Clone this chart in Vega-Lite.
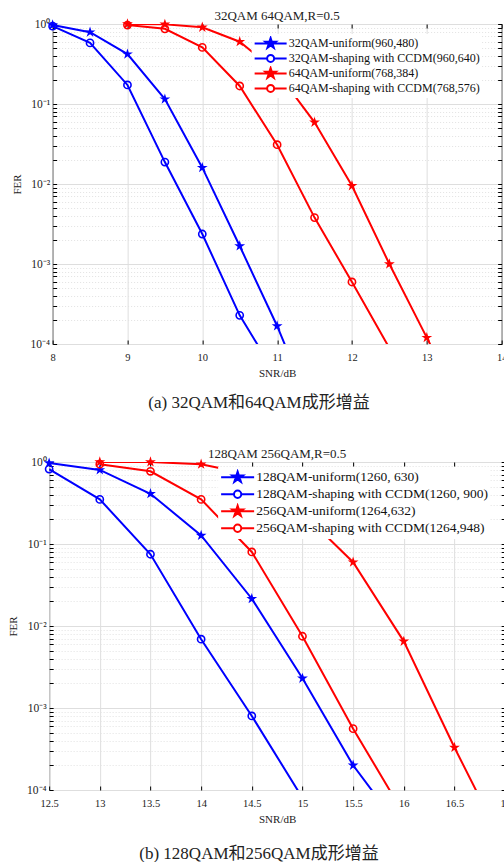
{
 "$schema": "https://vega.github.io/schema/vega-lite/v6.json",
 "padding": {"left": 7, "top": 9, "right": 0, "bottom": 0},
 "background": "white",
 "config": {
  "font": "Liberation Serif, Noto Sans CJK SC",
  "view": {"stroke": "#000000", "strokeWidth": 1},
  "axis": {"labelFont": "Liberation Serif", "labelColor": "#222222", "titleFont": "Liberation Serif", "titleColor": "#222222", "tickColor": "#000000"}
 },
 "spacing": 36,
 "center": true,
 "resolve": {"scale": {"color": "independent"}, "legend": {"color": "independent"}},
 "vconcat": [
  {
   "title": {"text": "(a)  32QAM和64QAM成形增益", "orient": "bottom", "anchor": "middle", "fontSize": 17, "fontWeight": "normal", "offset": 16, "color": "#222222"},
   "vconcat": [
    {
     "width": 449, "height": 320,
     "title": {"text": "32QAM 64QAM,R=0.5", "fontSize": 13, "fontWeight": "normal", "frame": "group", "anchor": "middle", "offset": -5, "color": "#222222"},
     "data": {"values": [
      {"series": "32QAM-uniform(960,480)", "snr": 8, "fer": 0.97},
      {"series": "32QAM-uniform(960,480)", "snr": 8.5, "fer": 0.79},
      {"series": "32QAM-uniform(960,480)", "snr": 9, "fer": 0.42},
      {"series": "32QAM-uniform(960,480)", "snr": 9.5, "fer": 0.115},
      {"series": "32QAM-uniform(960,480)", "snr": 10, "fer": 0.016},
      {"series": "32QAM-uniform(960,480)", "snr": 10.5, "fer": 0.00168},
      {"series": "32QAM-uniform(960,480)", "snr": 11, "fer": 0.000168},
      {"series": "32QAM-uniform(960,480)", "snr": 11.5, "fer": 0.0000125},
      {"series": "32QAM-shaping with CCDM(960,640)", "snr": 8, "fer": 0.94},
      {"series": "32QAM-shaping with CCDM(960,640)", "snr": 8.5, "fer": 0.58},
      {"series": "32QAM-shaping with CCDM(960,640)", "snr": 9, "fer": 0.173},
      {"series": "32QAM-shaping with CCDM(960,640)", "snr": 9.5, "fer": 0.0188},
      {"series": "32QAM-shaping with CCDM(960,640)", "snr": 10, "fer": 0.00237},
      {"series": "32QAM-shaping with CCDM(960,640)", "snr": 10.5, "fer": 0.000228},
      {"series": "32QAM-shaping with CCDM(960,640)", "snr": 11, "fer": 0.000039},
      {"series": "64QAM-uniform(768,384)", "snr": 9, "fer": 1.0},
      {"series": "64QAM-uniform(768,384)", "snr": 9.5, "fer": 0.99},
      {"series": "64QAM-uniform(768,384)", "snr": 10, "fer": 0.91},
      {"series": "64QAM-uniform(768,384)", "snr": 10.5, "fer": 0.6},
      {"series": "64QAM-uniform(768,384)", "snr": 11, "fer": 0.25},
      {"series": "64QAM-uniform(768,384)", "snr": 11.5, "fer": 0.059},
      {"series": "64QAM-uniform(768,384)", "snr": 12, "fer": 0.0095},
      {"series": "64QAM-uniform(768,384)", "snr": 12.5, "fer": 0.001},
      {"series": "64QAM-uniform(768,384)", "snr": 13, "fer": 0.00012},
      {"series": "64QAM-uniform(768,384)", "snr": 13.5, "fer": 0.0000145},
      {"series": "64QAM-shaping with CCDM(768,576)", "snr": 9, "fer": 0.97},
      {"series": "64QAM-shaping with CCDM(768,576)", "snr": 9.5, "fer": 0.87},
      {"series": "64QAM-shaping with CCDM(768,576)", "snr": 10, "fer": 0.51},
      {"series": "64QAM-shaping with CCDM(768,576)", "snr": 10.5, "fer": 0.168},
      {"series": "64QAM-shaping with CCDM(768,576)", "snr": 11, "fer": 0.031},
      {"series": "64QAM-shaping with CCDM(768,576)", "snr": 11.5, "fer": 0.0038},
      {"series": "64QAM-shaping with CCDM(768,576)", "snr": 12, "fer": 0.000596},
      {"series": "64QAM-shaping with CCDM(768,576)", "snr": 12.5, "fer": 0.000089}
     ]},
     "encoding": {
      "color": {"field": "series", "type": "nominal",
       "scale": {"domain": ["32QAM-uniform(960,480)", "32QAM-shaping with CCDM(960,640)", "64QAM-uniform(768,384)", "64QAM-shaping with CCDM(768,576)"], "range": ["#0000ff", "#0000ff", "#ff0000", "#ff0000"]},
       "legend": {"orient": "none", "legendX": 199, "legendY": 10, "title": null, "fillColor": "white", "padding": 2, "labelFontSize": 12, "labelFont": "Liberation Serif", "labelColor": "#111111", "labelLimit": 500, "symbolSize": 1024, "symbolStrokeWidth": 2, "clipHeight": 14.8, "rowPadding": 0, "labelOffset": 1, "symbolOffset": 0,
        "encode": {"symbols": {"update": {
         "shape": {"signal": "indexof(datum.value,'uniform')>=0 ? 'M0,-0.34L0.0764,-0.1052L0.3234,-0.1051L0.1236,0.0402L0.1999,0.2751L0,0.13L-0.1999,0.2751L-0.1236,0.0402L-0.3234,-0.1051L-0.0764,-0.1052ZM-1,0L1,0' : 'M-0.22,0A0.22,0.22 0 1,0 0.22,0A0.22,0.22 0 1,0 -0.22,0ZM-0.22,0A0.22,0.22 0 1,1 0.22,0A0.22,0.22 0 1,1 -0.22,0ZM-1,0L-0.22,0M0.22,0L1,0'"},
         "fill": {"signal": "indexof(datum.value,'uniform')>=0 ? (indexof(datum.value,'32Q')==0 ? '#0000ff' : '#ff0000') : 'transparent'"},
         "stroke": {"signal": "indexof(datum.value,'32Q')==0 ? '#0000ff' : '#ff0000'"},
         "strokeWidth": {"value": 2},
         "opacity": {"value": 1}
        }}}
       }
      }
     },
     "layer": [
      {
       "mark": {"type": "line", "clip": true, "strokeWidth": 2},
       "encoding": {
        "x": {"field": "snr", "type": "quantitative", "scale": {"domain": [8, 14], "nice": false, "zero": false},
         "axis": {"values": [8, 9, 10, 11, 12, 13, 14], "orient": "bottom", "title": "SNR/dB", "titleFontSize": 11, "titleFontWeight": "normal", "titlePadding": 5, "labelFontSize": 10.5, "tickSize": -4, "labelPadding": 12, "domain": false, "grid": true, "gridColor": "#dedede", "gridWidth": 1, "labelFlush": false}},
        "y": {"field": "fer", "type": "quantitative", "scale": {"type": "log", "domain": [0.0001, 1], "nice": false},
         "axis": {"values": [0.0001,0.0002,0.0003,0.0004,0.0005,0.0006,0.0007,0.0008,0.0009,0.001,0.002,0.003,0.004,0.005,0.006,0.007,0.008,0.009,0.01,0.02,0.03,0.04,0.05,0.06,0.07,0.08,0.09,0.1,0.2,0.3,0.4,0.5,0.6,0.7,0.8,0.9,1],
          "orient": "left", "title": "FER", "titleFontSize": 11, "titleFontWeight": "normal", "titlePadding": 8,
          "labelExpr": "abs(log(datum.value)/LN10 - round(log(datum.value)/LN10)) < 0.01 ? (round(log(datum.value)/LN10) == 0 ? '10⁰' : round(log(datum.value)/LN10) == -1 ? '10⁻¹' : round(log(datum.value)/LN10) == -2 ? '10⁻²' : round(log(datum.value)/LN10) == -3 ? '10⁻³' : '10⁻⁴') : ''",
          "labelOverlap": false, "labelFontSize": 11.5, "tickSize": -4, "labelPadding": 7, "domain": false, "grid": true, "labelFlush": false,
          "gridColor": {"condition": {"test": "abs(log(datum.value)/LN10 - round(log(datum.value)/LN10)) < 0.01", "value": "#dedede"}, "value": "#e2e2e2"},
          "gridDash": {"condition": {"test": "abs(log(datum.value)/LN10 - round(log(datum.value)/LN10)) < 0.01", "value": []}, "value": [1, 2]}}}
       }
      },
      {
       "transform": [{"filter": "indexof(datum.series,'uniform')>=0 && datum.fer>=0.0001"}],
       "mark": {"type": "point", "shape": "M0,-1L0.2245,-0.309L0.9511,-0.309L0.3633,0.118L0.5878,0.809L0,0.382L-0.5878,0.809L-0.3633,0.118L-0.9511,-0.309L-0.2245,-0.309Z", "filled": true, "size": 130, "opacity": 1},
       "encoding": {
        "x": {"field": "snr", "type": "quantitative", "scale": {"domain": [8, 14], "nice": false, "zero": false},
         "axis": {"values": [8, 9, 10, 11, 12, 13, 14], "orient": "top", "title": null, "labels": false, "tickSize": -4, "domain": false, "grid": false, "minExtent": 0, "maxExtent": 0}},
        "y": {"field": "fer", "type": "quantitative", "scale": {"type": "log", "domain": [0.0001, 1], "nice": false},
         "axis": {"values": [0.0001,0.0002,0.0003,0.0004,0.0005,0.0006,0.0007,0.0008,0.0009,0.001,0.002,0.003,0.004,0.005,0.006,0.007,0.008,0.009,0.01,0.02,0.03,0.04,0.05,0.06,0.07,0.08,0.09,0.1,0.2,0.3,0.4,0.5,0.6,0.7,0.8,0.9,1],
          "orient": "right", "title": null, "labels": false, "tickSize": -4, "domain": false, "grid": false, "minExtent": 0, "maxExtent": 0}}
       }
      },
      {
       "transform": [{"filter": "indexof(datum.series,'shaping')>=0 && datum.fer>=0.0001"}],
       "mark": {"type": "point", "shape": "circle", "filled": false, "size": 52, "strokeWidth": 1.6, "opacity": 1},
       "encoding": {
        "x": {"field": "snr", "type": "quantitative", "scale": {"domain": [8, 14], "nice": false, "zero": false}, "axis": null},
        "y": {"field": "fer", "type": "quantitative", "scale": {"type": "log", "domain": [0.0001, 1], "nice": false}, "axis": null}
       }
      }
     ],
     "resolve": {"axis": {"x": "independent", "y": "independent"}}
    }
   ]
  },
  {
   "title": {"text": "(b)  128QAM和256QAM成形增益", "orient": "bottom", "anchor": "middle", "fontSize": 17, "fontWeight": "normal", "offset": 21, "color": "#222222"},
   "vconcat": [
    {
     "width": 456, "height": 328,
     "title": {"text": "128QAM 256QAM,R=0.5", "fontSize": 13, "fontWeight": "normal", "frame": "group", "anchor": "middle", "offset": -5, "color": "#222222"},
     "data": {"values": [
      {"series": "128QAM-uniform(1260, 630)", "snr": 12.5, "fer": 0.97},
      {"series": "128QAM-uniform(1260, 630)", "snr": 13, "fer": 0.8},
      {"series": "128QAM-uniform(1260, 630)", "snr": 13.5, "fer": 0.41},
      {"series": "128QAM-uniform(1260, 630)", "snr": 14, "fer": 0.127},
      {"series": "128QAM-uniform(1260, 630)", "snr": 14.5, "fer": 0.0215},
      {"series": "128QAM-uniform(1260, 630)", "snr": 15, "fer": 0.0023},
      {"series": "128QAM-uniform(1260, 630)", "snr": 15.5, "fer": 0.0002},
      {"series": "128QAM-uniform(1260, 630)", "snr": 16, "fer": 0.00003},
      {"series": "128QAM-shaping with CCDM(1260, 900)", "snr": 12.5, "fer": 0.82},
      {"series": "128QAM-shaping with CCDM(1260, 900)", "snr": 13, "fer": 0.35},
      {"series": "128QAM-shaping with CCDM(1260, 900)", "snr": 13.5, "fer": 0.075},
      {"series": "128QAM-shaping with CCDM(1260, 900)", "snr": 14, "fer": 0.0069},
      {"series": "128QAM-shaping with CCDM(1260, 900)", "snr": 14.5, "fer": 0.0008},
      {"series": "128QAM-shaping with CCDM(1260, 900)", "snr": 15, "fer": 0.00008},
      {"series": "256QAM-uniform(1264,632)", "snr": 13, "fer": 1.0},
      {"series": "256QAM-uniform(1264,632)", "snr": 13.5, "fer": 1.0},
      {"series": "256QAM-uniform(1264,632)", "snr": 14, "fer": 0.94},
      {"series": "256QAM-uniform(1264,632)", "snr": 14.5, "fer": 0.7},
      {"series": "256QAM-uniform(1264,632)", "snr": 15, "fer": 0.24},
      {"series": "256QAM-uniform(1264,632)", "snr": 15.5, "fer": 0.06},
      {"series": "256QAM-uniform(1264,632)", "snr": 16, "fer": 0.0065},
      {"series": "256QAM-uniform(1264,632)", "snr": 16.5, "fer": 0.00033},
      {"series": "256QAM-uniform(1264,632)", "snr": 17, "fer": 0.0000196},
      {"series": "256QAM-shaping with CCDM(1264,948)", "snr": 13, "fer": 0.94},
      {"series": "256QAM-shaping with CCDM(1264,948)", "snr": 13.5, "fer": 0.77},
      {"series": "256QAM-shaping with CCDM(1264,948)", "snr": 14, "fer": 0.35},
      {"series": "256QAM-shaping with CCDM(1264,948)", "snr": 14.5, "fer": 0.08},
      {"series": "256QAM-shaping with CCDM(1264,948)", "snr": 15, "fer": 0.0075},
      {"series": "256QAM-shaping with CCDM(1264,948)", "snr": 15.5, "fer": 0.00056},
      {"series": "256QAM-shaping with CCDM(1264,948)", "snr": 16, "fer": 0.000051}
     ]},
     "encoding": {
      "color": {"field": "series", "type": "nominal",
       "scale": {"domain": ["128QAM-uniform(1260, 630)", "128QAM-shaping with CCDM(1260, 900)", "256QAM-uniform(1264,632)", "256QAM-shaping with CCDM(1264,948)"], "range": ["#0000ff", "#0000ff", "#ff0000", "#ff0000"]},
       "legend": {"orient": "none", "legendX": 169, "legendY": 5, "title": null, "fillColor": "white", "padding": 2, "labelFontSize": 13.5, "labelFont": "Liberation Serif", "labelColor": "#111111", "labelLimit": 500, "symbolSize": 1089, "symbolStrokeWidth": 2, "clipHeight": 16.5, "rowPadding": 0, "labelOffset": 1, "symbolOffset": 0,
        "encode": {"symbols": {"update": {
         "shape": {"signal": "indexof(datum.value,'uniform')>=0 ? 'M0,-0.34L0.0764,-0.1052L0.3234,-0.1051L0.1236,0.0402L0.1999,0.2751L0,0.13L-0.1999,0.2751L-0.1236,0.0402L-0.3234,-0.1051L-0.0764,-0.1052ZM-1,0L1,0' : 'M-0.22,0A0.22,0.22 0 1,0 0.22,0A0.22,0.22 0 1,0 -0.22,0ZM-0.22,0A0.22,0.22 0 1,1 0.22,0A0.22,0.22 0 1,1 -0.22,0ZM-1,0L-0.22,0M0.22,0L1,0'"},
         "fill": {"signal": "indexof(datum.value,'uniform')>=0 ? (indexof(datum.value,'128Q')==0 ? '#0000ff' : '#ff0000') : 'transparent'"},
         "stroke": {"signal": "indexof(datum.value,'128Q')==0 ? '#0000ff' : '#ff0000'"},
         "strokeWidth": {"value": 2},
         "opacity": {"value": 1}
        }}}
       }
      }
     },
     "layer": [
      {
       "mark": {"type": "line", "clip": true, "strokeWidth": 2},
       "encoding": {
        "x": {"field": "snr", "type": "quantitative", "scale": {"domain": [12.5, 17], "nice": false, "zero": false},
         "axis": {"values": [12.5, 13, 13.5, 14, 14.5, 15, 15.5, 16, 16.5, 17], "format": "~g", "orient": "bottom", "title": "SNR/dB", "titleFontSize": 11, "titleFontWeight": "normal", "titlePadding": 5, "labelFontSize": 10.5, "tickSize": -4, "labelPadding": 12, "domain": false, "grid": true, "gridColor": "#dedede", "gridWidth": 1, "labelFlush": false}},
        "y": {"field": "fer", "type": "quantitative", "scale": {"type": "log", "domain": [0.0001, 1], "nice": false},
         "axis": {"values": [0.0001,0.0002,0.0003,0.0004,0.0005,0.0006,0.0007,0.0008,0.0009,0.001,0.002,0.003,0.004,0.005,0.006,0.007,0.008,0.009,0.01,0.02,0.03,0.04,0.05,0.06,0.07,0.08,0.09,0.1,0.2,0.3,0.4,0.5,0.6,0.7,0.8,0.9,1],
          "orient": "left", "title": "FER", "titleFontSize": 11, "titleFontWeight": "normal", "titlePadding": 8,
          "labelExpr": "abs(log(datum.value)/LN10 - round(log(datum.value)/LN10)) < 0.01 ? (round(log(datum.value)/LN10) == 0 ? '10⁰' : round(log(datum.value)/LN10) == -1 ? '10⁻¹' : round(log(datum.value)/LN10) == -2 ? '10⁻²' : round(log(datum.value)/LN10) == -3 ? '10⁻³' : '10⁻⁴') : ''",
          "labelOverlap": false, "labelFontSize": 11.5, "tickSize": -4, "labelPadding": 7, "domain": false, "grid": true, "labelFlush": false,
          "gridColor": {"condition": {"test": "abs(log(datum.value)/LN10 - round(log(datum.value)/LN10)) < 0.01", "value": "#dedede"}, "value": "#e2e2e2"},
          "gridDash": {"condition": {"test": "abs(log(datum.value)/LN10 - round(log(datum.value)/LN10)) < 0.01", "value": []}, "value": [1, 2]}}}
       }
      },
      {
       "transform": [{"filter": "indexof(datum.series,'uniform')>=0 && datum.fer>=0.0001"}],
       "mark": {"type": "point", "shape": "M0,-1L0.2245,-0.309L0.9511,-0.309L0.3633,0.118L0.5878,0.809L0,0.382L-0.5878,0.809L-0.3633,0.118L-0.9511,-0.309L-0.2245,-0.309Z", "filled": true, "size": 130, "opacity": 1},
       "encoding": {
        "x": {"field": "snr", "type": "quantitative", "scale": {"domain": [12.5, 17], "nice": false, "zero": false},
         "axis": {"values": [12.5, 13, 13.5, 14, 14.5, 15, 15.5, 16, 16.5, 17], "orient": "top", "title": null, "labels": false, "tickSize": -4, "domain": false, "grid": false, "minExtent": 0, "maxExtent": 0}},
        "y": {"field": "fer", "type": "quantitative", "scale": {"type": "log", "domain": [0.0001, 1], "nice": false},
         "axis": {"values": [0.0001,0.0002,0.0003,0.0004,0.0005,0.0006,0.0007,0.0008,0.0009,0.001,0.002,0.003,0.004,0.005,0.006,0.007,0.008,0.009,0.01,0.02,0.03,0.04,0.05,0.06,0.07,0.08,0.09,0.1,0.2,0.3,0.4,0.5,0.6,0.7,0.8,0.9,1],
          "orient": "right", "title": null, "labels": false, "tickSize": -4, "domain": false, "grid": false, "minExtent": 0, "maxExtent": 0}}
       }
      },
      {
       "transform": [{"filter": "indexof(datum.series,'shaping')>=0 && datum.fer>=0.0001"}],
       "mark": {"type": "point", "shape": "circle", "filled": false, "size": 52, "strokeWidth": 1.6, "opacity": 1},
       "encoding": {
        "x": {"field": "snr", "type": "quantitative", "scale": {"domain": [12.5, 17], "nice": false, "zero": false}, "axis": null},
        "y": {"field": "fer", "type": "quantitative", "scale": {"type": "log", "domain": [0.0001, 1], "nice": false}, "axis": null}
       }
      }
     ],
     "resolve": {"axis": {"x": "independent", "y": "independent"}}
    }
   ]
  }
 ]
}
